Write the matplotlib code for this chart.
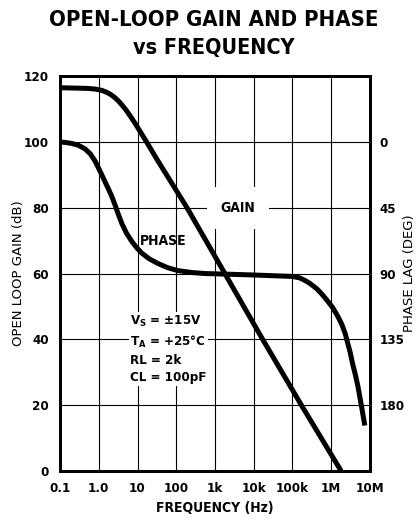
import numpy as np
import matplotlib
matplotlib.use("Agg")
import matplotlib.pyplot as plt

plt.rcParams['font.family'] = ['DejaVu Sans']
plt.rcParams['font.stretch'] = 'condensed'
plt.rcParams['font.weight'] = 'bold'

# open-loop gain (dB) vs frequency (Hz)
gain_freq = [0.1, 0.5, 0.8, 1.2, 1.6, 2.0, 2.6, 3.2, 4.0, 5.0, 6.4, 8.0, 10, 13,
             17.6, 30, 190, 1800, 17000, 170000, 1.8e6]
gain_db = [116.5, 116.3, 116.1, 115.7, 115.1, 114.5, 113.5, 112.5, 111.2, 109.8,
           108.0, 106.3, 104.5, 102.3, 99.8, 95.2, 80, 60, 40, 20, 0]

# phase lag (deg) vs frequency (Hz)
phase_freq = [0.1, 0.135, 0.2, 0.3, 0.44, 0.6, 0.8, 1.08, 1.35, 1.73, 2.15, 2.62,
              3.2, 3.97, 5.2, 7.2, 9.5, 13.1, 20, 33.5, 60, 110, 250, 550, 1000,
              10000, 100000, 155000, 220000, 280000, 430000, 610000, 820000,
              1.11e6, 1.5e6, 1.9e6, 2.3e6, 2.7e6, 3.1e6, 3.6e6, 4.2e6, 4.9e6,
              6.0e6, 7.4e6]
phase_deg = [0, 0.3, 1.0, 2.3, 4.7, 8, 13, 20, 25.5, 31.5, 37, 43, 49.5, 56, 62.4,
             68.2, 72.3, 76.2, 79.9, 83.1, 86, 88, 89.3, 90, 90.2, 91, 92, 93, 95,
             96.7, 100.5, 104.8, 109, 113.5, 119.5, 125, 131, 138, 144, 152, 159,
             167, 180, 194]

freq_ticks = [0.1, 1, 10, 100, 1e3, 1e4, 1e5, 1e6, 1e7]
freq_labels = ['0.1', '1.0', '10', '100', '1k', '10k', '100k', '1M', '10M']
gain_ticks = [0, 20, 40, 60, 80, 100, 120]
phase_ticks = [0, 45, 90, 135, 180]

fig = plt.figure(figsize=(4.17, 5.22), dpi=100)
ax = fig.add_axes([0.144, 0.098, 0.743, 0.756])

ax.plot(gain_freq, gain_db, color='black', lw=3.6, solid_capstyle='butt',
        solid_joinstyle='round', zorder=3)
ax.set_xscale('log')
ax.set_xlim(0.1, 1e7)
ax.set_ylim(0, 120)
ax.set_xticks(freq_ticks)
ax.set_xticklabels(freq_labels)
ax.minorticks_off()
ax.set_yticks(gain_ticks)
ax.grid(True, color='black', lw=0.8)
ax.tick_params(length=0, labelsize=9.5, pad=8)
for s in ax.spines.values():
    s.set_linewidth(2)
ax.set_xlabel('FREQUENCY (Hz)', fontsize=10, fontweight='bold', labelpad=4)
ax.set_ylabel('OPEN LOOP GAIN (dB)', fontsize=9.5, fontweight='normal',
              fontstretch='normal')
ax.yaxis.set_label_coords(-0.113, 0.5)

ax2 = ax.twinx()
ax2.plot(phase_freq, phase_deg, color='black', lw=3.6, solid_capstyle='butt',
         solid_joinstyle='round', zorder=3)
ax2.set_ylim(225, -45)
ax2.set_yticks(phase_ticks)
ax2.tick_params(length=0, labelsize=9.5, pad=7)
for s in ax2.spines.values():
    s.set_linewidth(2)
ax2.set_ylabel('PHASE LAG (DEG)', fontsize=9.5, fontweight='normal',
               fontstretch='normal')
ax2.yaxis.set_label_coords(1.108, 0.5)

box = dict(facecolor='white', edgecolor='none', pad=1)
ax.text(3.9e3, 80, 'GAIN', fontsize=10, ha='center', va='center',
        bbox=dict(facecolor='white', edgecolor='none', pad=10), zorder=4)
ax.text(45, 70, 'PHASE', fontsize=10, ha='center', va='center', zorder=4)
ax.text(6.4, 37, 'V$_\\mathbf{S}$ = ±15V\nT$_\\mathbf{A}$ = +25°C\nRL = 2k\nCL = 100pF',
        fontsize=9.5, ha='left', va='center', linespacing=1.4, bbox=box, zorder=4)

fig.text(0.512, 0.962, 'OPEN-LOOP GAIN AND PHASE', fontsize=15.8, ha='center',
         va='center', weight='heavy')
fig.text(0.512, 0.908, 'vs FREQUENCY', fontsize=15.5, ha='center', va='center',
         weight='heavy')

fig.savefig('out.png', dpi=100)
